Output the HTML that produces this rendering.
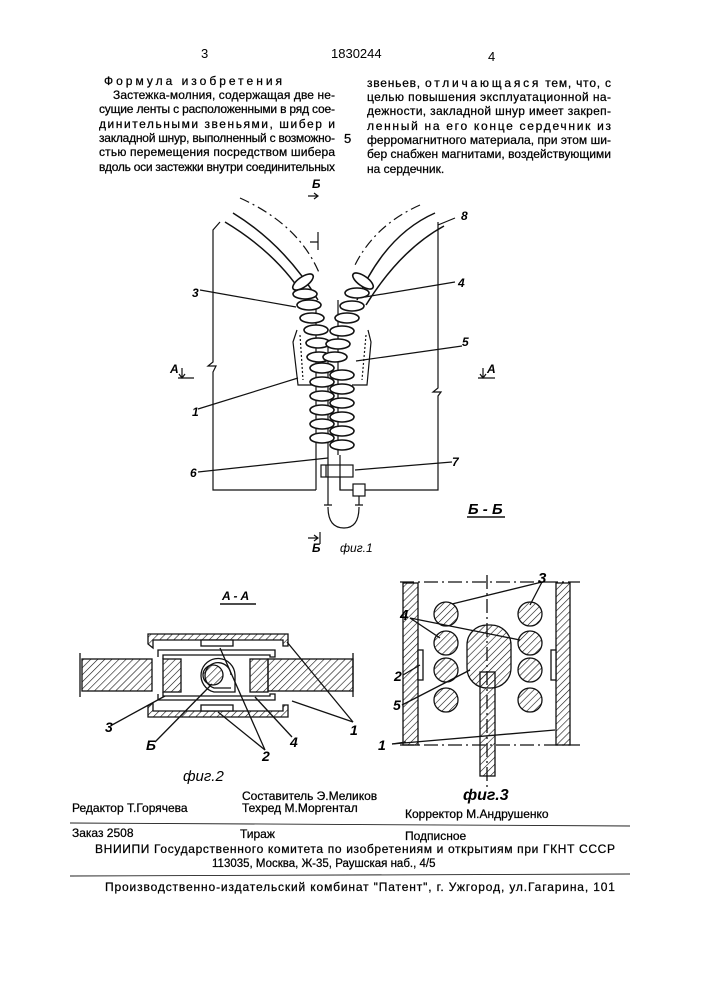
<!DOCTYPE html>
<html><head><meta charset="utf-8"><style>
body{margin:0;background:#fff}
svg{display:block}
text{font-family:"Liberation Sans",sans-serif;fill:#000}
.t{font-size:12px;stroke:#000;stroke-width:0.25}
.l{font-size:12px;font-style:italic;font-weight:bold}
</style></head><body>
<svg width="707" height="1000" viewBox="0 0 707 1000" xmlns="http://www.w3.org/2000/svg">
<defs>
<pattern id="h" width="5" height="5" patternUnits="userSpaceOnUse" patternTransform="rotate(45)">
<line x1="0" y1="0" x2="0" y2="5" stroke="#111" stroke-width="1.2"/></pattern>
</defs>
<rect width="707" height="1000" fill="#fff"/>
<text x="201" y="58" font-size="13">3</text>
<text x="331" y="58" font-size="13">1830244</text>
<text x="488" y="61" font-size="13">4</text>
<g class="t">
<text x="104" y="85" letter-spacing="3" font-size="12">Формула изобретения</text>
<text x="113" y="99" textLength="222">Застежка-молния, содержащая две не-</text>
<text x="99" y="113" textLength="236">сущие ленты с расположенными в ряд сое-</text>
<text x="99" y="128" textLength="236">динительными звеньями, шибер и</text>
<text x="99" y="142" textLength="236">закладной шнур, выполненный с возможно-</text>
<text x="99" y="156" textLength="236">стью перемещения посредством шибера</text>
<text x="99" y="171" textLength="236">вдоль оси застежки внутри соединительных</text>
<text x="344" y="143" font-size="13">5</text>
<text x="367" y="87" textLength="244">звеньев, <tspan letter-spacing="2">отличающаяся</tspan> тем, что, с</text>
<text x="367" y="101" textLength="244">целью повышения эксплуатационной на-</text>
<text x="367" y="115" textLength="244">дежности, закладной шнур имеет закреп-</text>
<text x="367" y="130" textLength="244">ленный на его конце сердечник из</text>
<text x="367" y="144" textLength="244">ферромагнитного материала, при этом ши-</text>
<text x="367" y="158" textLength="244">бер снабжен магнитами, воздействующими</text>
<text x="367" y="173">на сердечник.</text>
</g>
<!-- Fig 1 -->
<g fill="none" stroke="#111" stroke-width="1.2">
<path d="M220,222 L213,230 L213,362 L208,366 L216,366 L213,372 L213,490 L316,490"/>
<path d="M438,222 L438,388 L433,392 L441,392 L438,396 L438,490 L365,490"/>
<path d="M310,242 L318,242 M318,232 V250"/>
<path d="M233,213 Q285,245 318,300" stroke-width="1.5"/>
<path d="M225,222 Q280,255 308,303" stroke-width="1.5"/>
<path d="M435,213 Q385,235 357,300" stroke-width="1.5"/>
<path d="M444,226 Q400,250 366,305" stroke-width="1.5"/>
<path d="M240,198 Q300,225 320,275" stroke-dasharray="10,4,2,4"/>
<path d="M420,205 Q375,225 355,265" stroke-dasharray="10,4,2,4"/>
<path d="M297,330 L293,342 L298,385 L318,385"/>
<path d="M368,330 L371,342 L367,385 L352,385"/>
<path d="M300,335 L303,380 M366,335 L362,380" stroke-dasharray="2,2"/>
<line x1="316" y1="300" x2="316" y2="490"/>
<line x1="338" y1="300" x2="338" y2="455"/>
<line x1="328" y1="340" x2="328" y2="505"/>
<line x1="340" y1="455" x2="340" y2="490"/>
<rect x="321" y="465" width="32" height="12"/>
<line x1="326" y1="465" x2="326" y2="477"/>
<path d="M340,477 L340,490 L353,490"/>
<rect x="353" y="484" width="12" height="12"/>
<path d="M359,496 V505 M355,505 H363 M324,505 H332 M328,507 Q328,528 344,528 Q359,528 359,507"/>
<line x1="200" y1="290" x2="296" y2="307"/>
<line x1="455" y1="282" x2="365" y2="297"/>
<line x1="455" y1="218" x2="438" y2="225"/>
<line x1="462" y1="346" x2="356" y2="361"/>
<line x1="198" y1="409" x2="298" y2="378"/>
<line x1="198" y1="472" x2="328" y2="458"/>
<line x1="452" y1="462" x2="355" y2="470"/>
</g>
<g fill="#fff" stroke="#111" stroke-width="1.6">
<ellipse cx="303" cy="282" rx="12" ry="5" transform="rotate(-35 303 282)"/>
<ellipse cx="305" cy="294" rx="12" ry="5"/>
<ellipse cx="309" cy="305" rx="12" ry="5"/>
<ellipse cx="312" cy="318" rx="12" ry="5"/>
<ellipse cx="316" cy="330" rx="12" ry="5"/>
<ellipse cx="318" cy="343" rx="12" ry="5"/>
<ellipse cx="319" cy="357" rx="12" ry="5"/>
<ellipse cx="363" cy="281" rx="12" ry="5" transform="rotate(35 363 281)"/>
<ellipse cx="357" cy="293" rx="12" ry="5"/>
<ellipse cx="352" cy="306" rx="12" ry="5"/>
<ellipse cx="347" cy="318" rx="12" ry="5"/>
<ellipse cx="342" cy="331" rx="12" ry="5"/>
<ellipse cx="338" cy="344" rx="12" ry="5"/>
<ellipse cx="335" cy="357" rx="12" ry="5"/>
<ellipse cx="322" cy="368" rx="12" ry="5"/><ellipse cx="342" cy="375" rx="12" ry="5"/>
<ellipse cx="322" cy="382" rx="12" ry="5"/><ellipse cx="342" cy="389" rx="12" ry="5"/>
<ellipse cx="322" cy="396" rx="12" ry="5"/><ellipse cx="342" cy="403" rx="12" ry="5"/>
<ellipse cx="322" cy="410" rx="12" ry="5"/><ellipse cx="342" cy="417" rx="12" ry="5"/>
<ellipse cx="322" cy="424" rx="12" ry="5"/><ellipse cx="342" cy="431" rx="12" ry="5"/>
<ellipse cx="322" cy="438" rx="12" ry="5"/><ellipse cx="342" cy="445" rx="12" ry="5"/>
</g>
<g class="l">
<text x="192" y="297">3</text><text x="458" y="287">4</text><text x="461" y="220">8</text>
<text x="462" y="346">5</text><text x="192" y="416">1</text><text x="190" y="477">6</text>
<text x="452" y="466">7</text>
<text x="170" y="373">A</text><text x="487" y="373">A</text>
<text x="312" y="188">Б</text><text x="312" y="552">Б</text>
<text x="340" y="552" font-weight="normal">фиг.1</text>
<text x="468" y="514" font-size="15">Б - Б</text>
</g>
<g stroke="#111" stroke-width="1.2" fill="none">
<path d="M182,368 V378 M179,374 L182,378 L185,374 M178,378 H194"/>
<path d="M483,368 V378 M480,374 L483,378 L486,374 M478,378 H495"/>
<path d="M308,196 H318 M314,193 L318,196 L314,199"/>
<path d="M308,538 H318 M314,535 L318,538 L314,541 M320,532 V544"/>
<line x1="467" y1="517" x2="505" y2="517" stroke-width="1.5"/>
</g>
<!-- Fig 2 -->
<text x="222" y="600" class="l" font-size="15">A - A</text>
<line x1="220" y1="604" x2="256" y2="604" stroke="#111" stroke-width="1.5"/>
<g stroke="#111" stroke-width="1.3">
<rect x="82" y="659" width="70" height="32" fill="url(#h)"/>
<rect x="268" y="659" width="85" height="32" fill="url(#h)"/>
<line x1="80" y1="653" x2="80" y2="697"/><line x1="353" y1="653" x2="353" y2="697"/>
<path d="M148,644 V634 H288 V646 H283 V640 H153 V648 Z" fill="url(#h)"/>
<path d="M148,706 V717 H288 V705 H283 V711 H153 V703 Z" fill="url(#h)"/>
<rect x="201" y="640" width="32" height="6" fill="#fff"/>
<rect x="201" y="705" width="32" height="6" fill="#fff"/>
<path d="M158,657 V650 H275 V657 H270 V655 H163 V659" fill="none"/>
<path d="M158,694 V700 H275 V694 H270 V696 H163 V692" fill="none"/>
<rect x="163" y="659" width="18" height="33" fill="url(#h)"/>
<rect x="250" y="659" width="18" height="33" fill="url(#h)"/>
<path d="M235,692 H214 A17,17 0 1 1 235,675 Z" fill="#fff"/>
<path d="M231,688 H214 A13,13 0 1 1 231,675" fill="none"/>
<circle cx="213" cy="675" r="10" fill="url(#h)"/>
<g fill="none">
<line x1="112" y1="725" x2="165" y2="696"/>
<line x1="155" y1="742" x2="212" y2="684"/>
<line x1="265" y1="750" x2="218" y2="712"/><line x1="265" y1="750" x2="220" y2="648"/>
<line x1="292" y1="737" x2="255" y2="697"/>
<line x1="353" y1="722" x2="287" y2="642"/><line x1="353" y1="722" x2="292" y2="701"/>
</g>
</g>
<g class="l"><text x="105" y="732" font-size="14">3</text><text x="146" y="750" font-size="14">Б</text>
<text x="262" y="761" font-size="14">2</text><text x="290" y="747" font-size="14">4</text><text x="350" y="735" font-size="14">1</text>
<text x="183" y="781" font-size="15" font-weight="normal">фиг.2</text></g>
<!-- Fig 3 -->
<g stroke="#111" stroke-width="1.3">
<line x1="400" y1="582" x2="580" y2="582" stroke-dasharray="14,4,2,4"/>
<line x1="400" y1="745" x2="580" y2="745" stroke-dasharray="14,4,2,4"/>
<rect x="403" y="583" width="15" height="162" fill="url(#h)"/>
<rect x="556" y="583" width="14" height="162" fill="url(#h)"/>
<rect x="418" y="650" width="5" height="30" fill="#fff"/>
<rect x="551" y="650" width="5" height="30" fill="#fff"/>
<circle cx="446" cy="614" r="12" fill="url(#h)"/><circle cx="446" cy="643" r="12" fill="url(#h)"/>
<circle cx="446" cy="670" r="12" fill="url(#h)"/><circle cx="446" cy="700" r="12" fill="url(#h)"/>
<circle cx="530" cy="614" r="12" fill="url(#h)"/><circle cx="530" cy="643" r="12" fill="url(#h)"/>
<circle cx="530" cy="670" r="12" fill="url(#h)"/><circle cx="530" cy="700" r="12" fill="url(#h)"/>
<rect x="480" y="672" width="15" height="104" fill="url(#h)"/>
<rect x="467" y="625" width="44" height="63" rx="20" fill="url(#h)"/>
<line x1="487" y1="575" x2="487" y2="790" stroke-dasharray="14,4,2,4" fill="none"/>
<g fill="none">
<line x1="542" y1="582" x2="452" y2="604"/><line x1="542" y1="582" x2="530" y2="605"/>
<line x1="410" y1="618" x2="440" y2="638"/><line x1="410" y1="618" x2="520" y2="640"/>
<line x1="403" y1="675" x2="420" y2="665"/>
<line x1="402" y1="705" x2="470" y2="670"/>
<line x1="392" y1="744" x2="406" y2="742"/><line x1="392" y1="744" x2="555" y2="730"/>
</g>
</g>
<g class="l" font-size="15">
<text x="538" y="583" font-size="15">3</text><text x="400" y="620" font-size="15">4</text>
<text x="394" y="681" font-size="14">2</text><text x="393" y="710" font-size="14">5</text>
<text x="378" y="750" font-size="14">1</text>
<text x="463" y="800" font-size="16">фиг.3</text></g>
<!-- footer -->
<g class="t" font-size="12.5">
<text x="72" y="812">Редактор Т.Горячева</text>
<text x="242" y="800">Составитель Э.Меликов</text>
<text x="242" y="812">Техред М.Моргентал</text>
<text x="405" y="818">Корректор М.Андрушенко</text>
<text x="72" y="837">Заказ 2508</text>
<text x="240" y="838">Тираж</text>
<text x="405" y="840">Подписное</text>
<text x="95" y="853" textLength="520">ВНИИПИ Государственного комитета по изобретениям и открытиям при ГКНТ СССР</text>
<text x="212" y="867" font-size="11.5">113035, Москва, Ж-35, Раушская наб., 4/5</text>
<text x="105" y="891" textLength="510">Производственно-издательский комбинат "Патент", г. Ужгород, ул.Гагарина, 101</text>
</g>
<line x1="70" y1="823" x2="630" y2="826" stroke="#222" stroke-width="0.9"/>
<line x1="70" y1="876" x2="630" y2="874" stroke="#222" stroke-width="0.9"/>
</svg>
</body></html>
